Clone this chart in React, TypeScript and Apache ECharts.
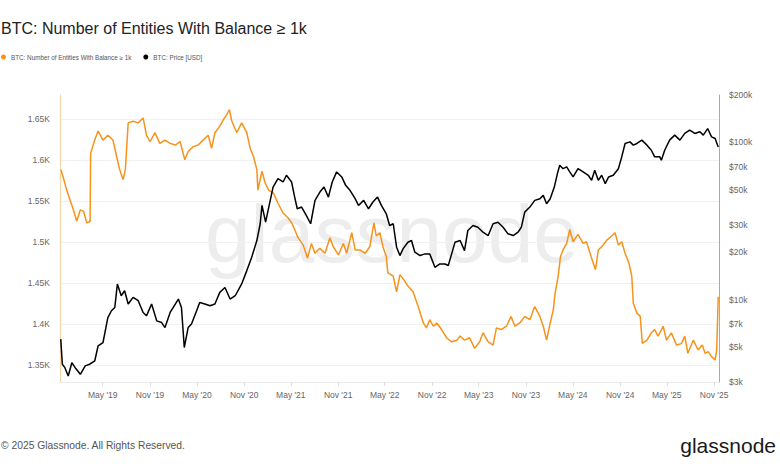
import React, { useEffect, useRef } from "react";
import * as echarts from "echarts";

const entityDates: string[] = [
  "2018-11-19","2018-11-29","2018-12-12","2018-12-25","2019-01-07","2019-01-20","2019-02-03","2019-02-16","2019-02-28","2019-03-11",
  "2019-03-13","2019-03-15","2019-03-31","2019-04-13","2019-05-02","2019-05-21","2019-06-10","2019-06-24","2019-07-06","2019-07-19",
  "2019-07-28","2019-08-08","2019-08-27","2019-09-16","2019-10-05","2019-10-18","2019-11-01","2019-11-20","2019-12-09","2019-12-29",
  "2020-01-18","2020-02-07","2020-02-26","2020-03-15","2020-03-28","2020-04-17","2020-05-06","2020-05-25","2020-06-14","2020-06-27",
  "2020-07-10","2020-07-29","2020-08-12","2020-08-25","2020-09-04","2020-09-14","2020-10-03","2020-10-22","2020-11-11","2020-11-24",
  "2020-12-07","2020-12-20","2020-12-24","2021-01-09","2021-01-21","2021-02-04","2021-02-23","2021-03-12","2021-04-01","2021-04-21",
  "2021-05-04","2021-05-16","2021-05-29","2021-06-18","2021-07-05","2021-07-20","2021-08-03","2021-08-22","2021-09-11","2021-09-30",
  "2021-10-13","2021-11-02","2021-11-21","2021-12-04","2021-12-24","2022-01-06","2022-01-25","2022-02-14","2022-03-04","2022-03-20",
  "2022-03-29","2022-04-12","2022-04-24","2022-05-07","2022-05-13","2022-06-03","2022-06-16","2022-06-29","2022-07-18","2022-07-30",
  "2022-08-19","2022-09-08","2022-09-28","2022-10-10","2022-10-23","2022-11-06","2022-11-19","2022-12-08","2022-12-27","2023-01-16",
  "2023-02-05","2023-02-18","2023-03-07","2023-03-27","2023-04-15","2023-05-05","2023-05-18","2023-06-07","2023-06-26","2023-07-09",
  "2023-07-28","2023-08-17","2023-09-04","2023-09-19","2023-10-08","2023-10-27","2023-11-16","2023-12-05","2023-12-25","2024-01-07",
  "2024-01-20","2024-02-03","2024-02-15","2024-02-22","2024-03-05","2024-03-14","2024-03-24","2024-04-07","2024-04-19","2024-05-02",
  "2024-05-21","2024-06-10","2024-06-23","2024-07-13","2024-07-28","2024-08-08","2024-08-27","2024-09-10","2024-09-29","2024-10-12",
  "2024-10-25","2024-11-07","2024-11-20","2024-12-05","2024-12-16","2024-12-22","2025-01-05","2025-01-18","2025-01-26","2025-02-13",
  "2025-03-02","2025-03-15","2025-03-28","2025-04-17","2025-04-30","2025-05-19","2025-06-08","2025-06-27","2025-07-10","2025-07-22",
  "2025-08-12","2025-08-31","2025-09-16","2025-09-27","2025-10-09","2025-10-22","2025-11-05","2025-11-11","2025-11-17"
];
const entityValues: number[] = [
  1588,1578,1563,1551,1539,1525,1539,1537,1523,1525,
  1524,1608,1624,1635,1624,1630,1624,1604,1588,1576,
  1588,1645,1647,1645,1651,1630,1622,1633,1620,1624,
  1620,1618,1622,1600,1610,1616,1618,1624,1630,1614,
  1633,1641,1649,1655,1661,1647,1633,1645,1633,1614,
  1604,1588,1563,1586,1572,1563,1559,1547,1535,1529,
  1523,1515,1505,1496,1480,1498,1486,1492,1486,1505,
  1494,1484,1498,1486,1511,1490,1490,1486,1494,1523,
  1507,1511,1494,1482,1462,1458,1439,1460,1452,1446,
  1439,1421,1401,1395,1405,1397,1401,1393,1383,1378,
  1380,1385,1380,1383,1370,1378,1389,1378,1374,1395,
  1393,1397,1409,1397,1401,1409,1405,1421,1409,1397,
  1380,1401,1417,1437,1458,1482,1490,1498,1515,1500,
  1509,1498,1500,1480,1466,1490,1496,1502,1507,1511,
  1496,1500,1486,1474,1458,1425,1413,1409,1376,1380,
  1389,1393,1385,1397,1380,1389,1374,1376,1385,1364,
  1380,1368,1374,1364,1366,1360,1356,1368,1433
];

const priceDates: string[] = [
  "2018-11-19","2018-11-25","2018-12-05","2018-12-18","2019-01-01","2019-01-14","2019-02-03","2019-02-22","2019-03-11","2019-03-31",
  "2019-04-13","2019-05-02","2019-05-21","2019-06-04","2019-06-17","2019-06-27","2019-07-12","2019-07-25","2019-08-08","2019-08-27",
  "2019-09-16","2019-10-05","2019-10-18","2019-11-07","2019-11-27","2019-12-16","2019-12-29","2020-01-18","2020-02-07","2020-02-19",
  "2020-03-02","2020-03-13","2020-03-28","2020-04-10","2020-04-30","2020-05-12","2020-06-01","2020-06-21","2020-07-10","2020-07-29",
  "2020-08-18","2020-09-07","2020-09-27","2020-10-22","2020-11-11","2020-11-30","2020-12-20","2021-01-02","2021-01-09","2021-01-23",
  "2021-02-10","2021-02-21","2021-03-12","2021-04-01","2021-04-14","2021-05-04","2021-05-16","2021-05-26","2021-06-12","2021-06-30",
  "2021-07-17","2021-08-03","2021-08-22","2021-09-07","2021-09-24","2021-10-09","2021-10-26","2021-11-15","2021-11-30","2021-12-17",
  "2022-01-06","2022-01-19","2022-02-08","2022-02-27","2022-03-16","2022-04-03","2022-04-18","2022-05-07","2022-05-20","2022-06-03",
  "2022-06-16","2022-06-29","2022-07-11","2022-07-30","2022-08-13","2022-08-26","2022-09-15","2022-10-04","2022-10-23","2022-11-12",
  "2022-12-01","2022-12-21","2023-01-03","2023-01-16","2023-01-29","2023-02-18","2023-03-07","2023-03-20","2023-04-09","2023-04-28",
  "2023-05-18","2023-06-07","2023-06-26","2023-07-15","2023-08-04","2023-08-23","2023-09-12","2023-10-01","2023-10-14","2023-10-27",
  "2023-11-16","2023-12-05","2023-12-25","2024-01-07","2024-01-20","2024-02-03","2024-02-19","2024-03-02","2024-03-11","2024-03-24",
  "2024-04-07","2024-04-19","2024-05-02","2024-05-21","2024-06-10","2024-06-30","2024-07-13","2024-07-25","2024-08-08","2024-08-21",
  "2024-09-04","2024-09-17","2024-10-05","2024-10-25","2024-11-07","2024-11-20","2024-12-09","2024-12-22","2025-01-05","2025-01-24",
  "2025-02-13","2025-03-02","2025-03-15","2025-04-04","2025-04-10","2025-04-23","2025-05-12","2025-06-01","2025-06-21","2025-07-10",
  "2025-07-29","2025-08-18","2025-09-07","2025-09-20","2025-10-07","2025-10-22","2025-11-05","2025-11-17"
];
const priceValues: number[] = [
  5615,3890,3700,3275,3980,3700,3360,3800,3890,4080,
  5090,5340,7700,8510,8930,12590,10600,11400,9390,10350,
  9860,8300,7900,9390,7340,7160,6650,8300,9390,10100,
  8930,4970,6650,7000,8510,9610,9390,9160,9390,11130,
  11970,10100,10600,12590,15310,18620,23770,30400,39740,31100,
  42800,52000,58900,56000,61800,56000,44900,37850,38800,34350,
  30400,42800,48350,52000,44900,56000,64900,60300,53300,49600,
  43850,39740,42800,37850,41770,44900,39740,35180,29650,30400,
  21560,19080,21050,23200,23770,20050,19080,19550,19550,16070,
  16870,16870,16500,19550,23200,23770,20520,27550,29650,28900,
  26850,25580,30400,31100,28900,26230,25580,26850,28900,36050,
  38800,42800,43850,46050,40730,43850,52000,63250,71600,68050,
  69800,64900,60300,68050,64900,61800,57400,66500,57400,61800,
  54700,60300,61800,68050,80900,98400,100700,96000,98400,103300,
  96000,89150,80900,80900,77100,89150,103300,111200,103300,114000,
  119600,114000,116700,111200,122400,108400,105800,93600
];

const leftTicks: number[] = [1350, 1400, 1450, 1500, 1550, 1600, 1650];
const rightTicks: number[] = [3000, 5000, 7000, 10000, 20000, 30000, 50000, 70000, 100000, 200000];
const xTickDates: string[] = [
  "2019-05-01","2019-11-01","2020-05-01","2020-11-01","2021-05-01","2021-11-01","2022-05-01",
  "2022-11-01","2023-05-01","2023-11-01","2024-05-01","2024-11-01","2025-05-01","2025-11-01"
];
const monthNames = ["Jan","Feb","Mar","Apr","May","Jun","Jul","Aug","Sep","Oct","Nov","Dec"];

const toTs = (s: string) => {
  const [y, m, d] = s.split("-").map(Number);
  return new Date(y, m - 1, d).getTime();
};

const FONT = "'Liberation Sans', Arial, sans-serif";

export default function App() {
  const ref = useRef<HTMLDivElement>(null);
  useEffect(() => {
    if (!ref.current) return;
    const chart = echarts.init(ref.current, undefined, { renderer: "svg" });
    const entityData = entityDates.map((d, i) => [toTs(d), entityValues[i]]);
    const priceData = priceDates.map((d, i) => [toTs(d), priceValues[i]]);
    const xTicks = xTickDates.map(toTs);
    chart.setOption({
      animation: false,
      backgroundColor: "#ffffff",
      textStyle: { fontFamily: FONT },
      title: {
        text: "BTC: Number of Entities With Balance \u2265 1k",
        left: -4,
        top: 15,
        textStyle: { fontSize: 16, fontWeight: "normal", color: "#222", fontFamily: FONT },
      },
      legend: {
        left: -4,
        top: 49,
        icon: "circle",
        itemWidth: 5,
        itemHeight: 5,
        itemGap: 12,
        textStyle: { fontSize: 6.3, color: "#555", fontFamily: FONT },
        data: ["BTC: Number of Entities With Balance \u2265 1k", "BTC: Price [USD]"],
      },
      grid: { left: 60, right: 61, top: 95, bottom: 88, containLabel: false },
      xAxis: {
        type: "value",
        min: toTs("2018-11-16"),
        max: toTs("2025-11-20"),
        axisLine: { show: true, lineStyle: { color: "#ececec" } },
        axisTick: { show: true, customValues: xTicks, length: 4, lineStyle: { color: "#e0e0e0" } },
        splitLine: { show: false },
        axisLabel: {
          customValues: xTicks,
          fontSize: 8.5,
          color: "#666",
          margin: 8,
          fontFamily: FONT,
          formatter: (v: number) => {
            const d = new Date(v);
            return `${monthNames[d.getMonth()]} '${String(d.getFullYear()).slice(2)}`;
          },
        },
      },
      yAxis: [
        {
          type: "value",
          position: "left",
          min: 1329,
          max: 1679,
          axisLine: { show: true, lineStyle: { color: "#f8d3a3", width: 1 } },
          axisTick: { show: false, customValues: leftTicks },
          splitLine: { show: true, lineStyle: { color: "#f1f1f1", width: 1 } },
          axisLabel: {
            customValues: leftTicks,
            fontSize: 8.5,
            color: "#666",
            margin: 10,
            fontFamily: FONT,
            formatter: (v: number) => `${v / 1000}K`,
          },
        },
        {
          type: "log",
          position: "right",
          logBase: 10,
          min: 3000,
          max: 200000,
          axisLine: { show: true, lineStyle: { color: "#aaaaaa", width: 1 } },
          axisTick: { show: false, customValues: rightTicks },
          splitLine: { show: false },
          axisLabel: {
            customValues: rightTicks,
            fontSize: 8.5,
            color: "#666",
            margin: 10,
            fontFamily: FONT,
            formatter: (v: number) => `$${Math.round(v / 1000)}k`,
          },
        },
      ],
      graphic: [
        {
          type: "text",
          left: 205,
          top: 192,
          z: 0,
          silent: true,
          style: { text: "glassnode", fontSize: 82, fill: "#ededed", fontFamily: FONT },
        },
        {
          type: "text",
          left: 1,
          top: 440,
          style: { text: "\u00a9 2025 Glassnode. All Rights Reserved.", fontSize: 10.3, fill: "#555", fontFamily: FONT },
        },
        {
          type: "text",
          right: 4,
          top: 435,
          style: { text: "glassnode", fontSize: 21, fill: "#1a1a1a", fontFamily: FONT },
        },
      ],
      series: [
        {
          name: "BTC: Number of Entities With Balance \u2265 1k",
          type: "line",
          yAxisIndex: 0,
          data: entityData,
          showSymbol: false,
          symbol: "circle",
          z: 3,
          itemStyle: { color: "#f7931a" },
          lineStyle: { color: "#f7931a", width: 1.5 },
        },
        {
          name: "BTC: Price [USD]",
          type: "line",
          yAxisIndex: 1,
          data: priceData,
          showSymbol: false,
          symbol: "circle",
          z: 4,
          itemStyle: { color: "#000000" },
          lineStyle: { color: "#000000", width: 1.5 },
        },
      ],
    });
    return () => chart.dispose();
  }, []);
  return (
    <div
      ref={ref}
      style={{ position: "fixed", left: 0, top: 0, width: 780, height: 470 }}
    />
  );
}
